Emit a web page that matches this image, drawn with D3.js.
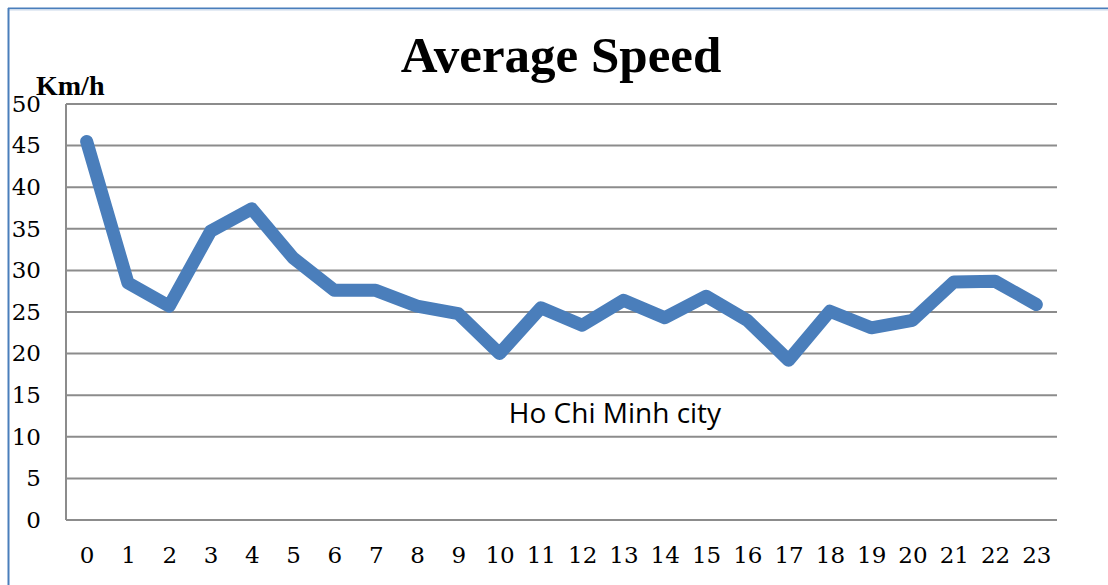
<!DOCTYPE html>
<html>
<head>
<meta charset="utf-8">
<script src="https://cdn.jsdelivr.net/npm/d3@7"></script>
<style>
	body { margin: 0; background: #fff; }
	svg { display: block; }
	.grid line { stroke: #8c8c8c; stroke-width: 2; }
	.tick text { font-family: "DejaVu Serif", serif; font-size: 23px; fill: #000; }
</style>
</head>
<body>
<div id="chart"></div>
<script>
// data
var hours = ["0","1","2","3","4","5","6","7","8","9","10","11","12","13","14","15","16","17","18","19","20","21","22","23"];
var speed = [45.5, 28.5, 25.7, 34.7, 37.4, 31.5, 27.6, 27.6, 25.7, 24.8, 20.0, 25.5, 23.4, 26.4, 24.3, 26.9, 24.0, 19.2, 25.1, 23.1, 24.0, 28.6, 28.7, 25.9];
var yTicks = [0, 5, 10, 15, 20, 25, 30, 35, 40, 45, 50];

var width = 1108, height = 585;
var margin = {top: 104, right: 51, bottom: 65, left: 66};

var svg = d3.select("#chart").append("svg")
	.attr("width", width)
	.attr("height", height);

// chart frame (only top and left show inside the window)
svg.append("line").attr("x1", 8).attr("y1", 8.5).attr("x2", width).attr("y2", 8.5)
	.attr("stroke", "#4a7ebb").attr("stroke-width", 2);
svg.append("line").attr("x1", 8).attr("y1", 10).attr("x2", width).attr("y2", 10)
	.attr("stroke", "#dbe5f1").attr("stroke-width", 1.5);
svg.append("line").attr("x1", 8.5).attr("y1", 8).attr("x2", 8.5).attr("y2", height)
	.attr("stroke", "#4a7ebb").attr("stroke-width", 2);

var x = d3.scalePoint()
	.domain(hours)
	.range([margin.left, width - margin.right])
	.padding(0.5);

var y = d3.scaleLinear()
	.domain([0, 50])
	.range([height - margin.bottom, margin.top]);

//horizontal gridlines
svg.append("g").attr("class", "grid")
	.selectAll("line")
	.data(yTicks)
	.enter().append("line")
	.attr("x1", margin.left)
	.attr("x2", width - margin.right)
	.attr("y1", function(d){ return y(d); })
	.attr("y2", function(d){ return y(d); });

//vertical axis line
svg.append("line")
	.attr("x1", margin.left).attr("x2", margin.left)
	.attr("y1", y(50)).attr("y2", y(0))
	.attr("stroke", "#8c8c8c").attr("stroke-width", 2);

//y axis labels
var yAxis = svg.append("g")
	.attr("transform", "translate(" + 41 + ",0)")
	.call(d3.axisLeft(y).tickValues(yTicks).tickSize(0).tickPadding(0));
yAxis.select(".domain").remove();
yAxis.selectAll("text").attr("text-anchor", "end");

//x axis labels
var xAxis = svg.append("g")
	.attr("transform", "translate(0," + 547 + ")")
	.call(d3.axisBottom(x).tickSize(0).tickPadding(0));
xAxis.select(".domain").remove();

//the line
var line = d3.line()
	.x(function(d, i){ return x(hours[i]); })
	.y(function(d){ return y(d); });

svg.append("path")
	.datum(speed)
	.attr("d", line)
	.attr("fill", "none")
	.attr("stroke", "#4a7ebb")
	.attr("stroke-width", 13)
	.attr("stroke-linejoin", "round")
	.attr("stroke-linecap", "round");

//title and labels
svg.append("text")
	.attr("x", 561).attr("y", 72)
	.attr("text-anchor", "middle")
	.style("font-family", "'Liberation Serif', serif")
	.style("font-weight", "bold")
	.style("font-size", "51px")
	.text("Average Speed");

svg.append("text")
	.attr("x", 36).attr("y", 95)
	.style("font-family", "'Liberation Serif', serif")
	.style("font-weight", "bold")
	.style("font-size", "28px")
	.text("Km/h");

svg.append("text")
	.attr("x", 615).attr("y", 423)
	.attr("text-anchor", "middle")
	.style("font-family", "'Open Sans', sans-serif")
	.style("font-size", "28px")
	.text("Ho Chi Minh city");
</script>
</body>
</html>
